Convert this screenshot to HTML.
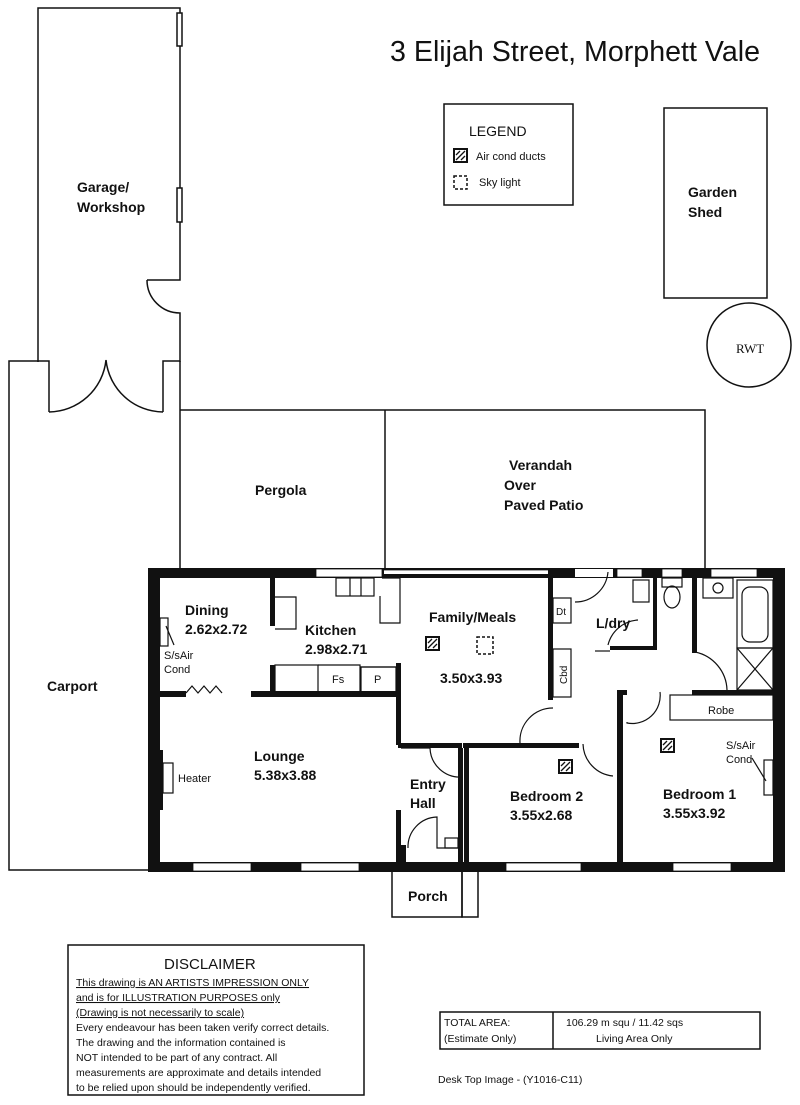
<!DOCTYPE html>
<html><head><meta charset="utf-8"><style>
html,body{margin:0;padding:0;background:#fff;}
svg{display:block;}
text{font-family:"Liberation Sans",Arial,sans-serif;fill:#111;}
.b{font-weight:bold;font-size:14px;}
.s{font-size:11px;}
</style></head><body>
<svg width="800" height="1105" viewBox="0 0 800 1105" xmlns="http://www.w3.org/2000/svg">
<g fill="none" stroke="#111" stroke-width="1.5">
<!-- Garage -->
<path d="M38,362 V8 H180 V280 H147"/>
<path d="M147,280 A33,33 0 0 0 180,313 V362"/>
<rect x="177" y="13" width="5" height="33" fill="#fff"/>
<rect x="177" y="188" width="5" height="34" fill="#fff"/>
<path d="M38,361 H49 V412 M163,412 V361 H180"/>
<path d="M49,412 A58,58 0 0 0 106,360 M163,412 A58,58 0 0 1 106,360"/>
<!-- Carport -->
<path d="M38,361 H9 V870 H150 M180,361 V570"/>
<!-- Pergola & verandah -->
<path d="M180,410 H705 V570 M385,410 V570"/>
<!-- Legend, shed, RWT -->
<rect x="444" y="104" width="129" height="101"/>
<rect x="664" y="108" width="103" height="190"/>
<circle cx="749" cy="345" r="42"/>
<!-- Porch -->
<path d="M392,870 V917 H462 V870"/>
<rect x="462" y="870" width="16" height="47"/>
<!-- Disclaimer & totals -->
<rect x="68" y="945" width="296" height="150"/>
<rect x="440" y="1012" width="320" height="37"/>
<path d="M553,1012 V1049"/>
</g>
<!-- legend icons -->
<rect x="454" y="149" width="13" height="13" fill="#fff" stroke="#111" stroke-width="2"/>
<path d="M456,160 L465,151 M456,155 L460,151 M461,160 L465,156" stroke="#111" stroke-width="1.3"/>
<rect x="454" y="176" width="13" height="13" fill="none" stroke="#111" stroke-width="1.5" stroke-dasharray="3,2"/>

<!-- House thick walls -->
<g fill="#111">
<rect x="148" y="568" width="637" height="10"/>
<rect x="148" y="568" width="12" height="304"/>
<rect x="773" y="568" width="12" height="304"/>
<rect x="148" y="862" width="637" height="10"/>
<!-- lounge/dining wall -->
<rect x="160" y="691" width="26" height="6"/>
<rect x="251" y="691" width="150" height="6"/>
<!-- kitchen verticals -->
<rect x="270" y="578" width="5" height="48"/>
<rect x="270" y="665" width="5" height="28"/>
<rect x="396" y="663" width="5" height="82"/>
<rect x="396" y="810" width="5" height="60"/>
<!-- entry hall -->
<rect x="398" y="743" width="64" height="5"/>
<rect x="458" y="748" width="5" height="124"/>
<rect x="398" y="845" width="8" height="27"/>
<!-- bedroom 2 -->
<rect x="463" y="743" width="116" height="5"/>
<rect x="464" y="748" width="5" height="120"/>
<rect x="617" y="690" width="6" height="175"/>
<rect x="617" y="690" width="10" height="5"/>
<rect x="692" y="690" width="83" height="5"/>
<!-- hall/family -->
<rect x="548" y="578" width="5" height="122"/>
<!-- laundry -->
<rect x="610" y="646" width="47" height="4"/>
<rect x="653" y="578" width="4" height="70"/>
<rect x="692" y="578" width="5" height="75"/>
<!-- heater bump -->
<rect x="155" y="750" width="8" height="60"/>
</g>
<!-- Windows (white gaps) -->
<g fill="#fff" stroke="#111" stroke-width="0.8">
<rect x="316" y="569" width="66" height="8"/>
<rect x="193" y="863" width="58" height="8"/>
<rect x="301" y="863" width="58" height="8"/>
<rect x="506" y="863" width="75" height="8"/>
<rect x="673" y="863" width="58" height="8"/>
<rect x="617" y="569" width="25" height="8"/>
<rect x="662" y="569" width="20" height="8"/>
<rect x="711" y="569" width="46" height="8"/>
</g>
<path d="M384,572 H548" stroke="#fff" stroke-width="4"/>
<path d="M384,570 H548 M384,575 H548" stroke="#111" stroke-width="0.8"/>
<!-- gap for door from hall to family top -->
<rect x="575" y="569" width="38" height="8" fill="#fff"/>
<g fill="none" stroke="#111" stroke-width="1.2">
<path d="M575,602 A33,33 0 0 0 608,572"/>
<!-- kitchen fittings -->
<rect x="336" y="578" width="38" height="18"/>
<path d="M350,578 V596 M361,578 V596 M382,578 H400 V623 H380 V596"/>
<path d="M275,597 H296 V629 H275"/>
<rect x="275" y="665" width="43" height="27"/>
<path d="M318,665 H360 V692 M360,667 H396"/>
<rect x="361" y="667" width="35" height="25"/>
<!-- dining/lounge zigzag -->
<path d="M186,693 L192,686 L198,693 L204,686 L210,693 L216,686 L222,693"/>
<!-- S/s air cond box -->
<rect x="160" y="618" width="8" height="28"/>
<path d="M166,626 L174,645"/>
<!-- doors -->
<path d="M401,748 H430 A30,30 0 0 0 462,777"/>
<path d="M408,848 A30,30 0 0 1 437,817 V848 H460"/>
<rect x="445" y="838" width="13" height="10"/>
<path d="M520,743 A33,33 0 0 1 553,708 M583,744 A33,33 0 0 0 613,776"/>
<path d="M627,722 V723 A28,28 0 0 0 660,692 M608,645 A33,33 0 0 1 638,620 M695,652 A40,40 0 0 1 727,690"/>
<path d="M595,651 H610"/>
<!-- Dt / Cbd -->
<rect x="553" y="598" width="18" height="25"/>
<rect x="553" y="649" width="18" height="48"/>
<!-- laundry tub, toilet -->
<rect x="633" y="580" width="16" height="22"/>
<ellipse cx="672" cy="597" rx="8" ry="11"/>
<rect x="662" y="578" width="20" height="9"/>
<!-- bathroom -->
<rect x="703" y="578" width="30" height="20"/>
<circle cx="718" cy="588" r="5"/>
<rect x="737" y="580" width="36" height="68"/>
<rect x="742" y="587" width="26" height="55" rx="8"/>
<rect x="737" y="648" width="36" height="42"/>
<path d="M737,648 L773,690 M773,648 L737,690"/>
<!-- Robe -->
<rect x="670" y="695" width="103" height="25"/>
<!-- bed1 air cond -->
<rect x="764" y="760" width="9" height="35"/>
<path d="M752,758 L766,781"/>
<!-- heater box -->
<rect x="163" y="763" width="10" height="30"/>
</g>
<!-- aircon ducts in rooms -->
<g stroke="#111" fill="#fff" stroke-width="2">
<rect x="426" y="637" width="13" height="13"/>
<rect x="559" y="760" width="13" height="13"/>
<rect x="661" y="739" width="13" height="13"/>
</g>
<g stroke="#111" stroke-width="1.3">
<path d="M428,648 L437,639 M428,643 L432,639 M433,648 L437,644"/>
<path d="M561,771 L570,762 M561,766 L565,762 M566,771 L570,767"/>
<path d="M663,750 L672,741 M663,745 L667,741 M668,750 L672,746"/>
</g>
<rect x="477" y="637" width="16" height="17" fill="none" stroke="#111" stroke-width="1.5" stroke-dasharray="3,2"/>

<!-- Text -->
<text x="390" y="61" font-size="29" textLength="370" lengthAdjust="spacingAndGlyphs">3 Elijah Street, Morphett Vale</text>
<text x="469" y="136" font-size="14">LEGEND</text>
<text x="476" y="160" font-size="11">Air cond ducts</text>
<text x="479" y="186" font-size="11">Sky light</text>
<text x="688" y="197" class="b">Garden</text>
<text x="688" y="217" class="b">Shed</text>
<text x="736" y="353" font-size="13" style="font-family:'Liberation Serif',serif">RWT</text>
<text x="77" y="192" class="b">Garage/</text>
<text x="77" y="212" class="b">Workshop</text>
<text x="255" y="495" class="b">Pergola</text>
<text x="509" y="470" class="b">Verandah</text>
<text x="504" y="490" class="b">Over</text>
<text x="504" y="510" class="b">Paved Patio</text>
<text x="47" y="691" class="b">Carport</text>
<text x="185" y="615" class="b">Dining</text>
<text x="185" y="634" class="b">2.62x2.72</text>
<text x="164" y="659" class="s">S/sAir</text>
<text x="164" y="673" class="s">Cond</text>
<text x="305" y="635" class="b">Kitchen</text>
<text x="305" y="654" class="b">2.98x2.71</text>
<text x="332" y="683" class="s">Fs</text>
<text x="374" y="683" class="s">P</text>
<text x="429" y="622" class="b">Family/Meals</text>
<text x="440" y="683" class="b">3.50x3.93</text>
<text x="556" y="615" font-size="10">Dt</text>
<text x="567" y="684" font-size="10" transform="rotate(-90 567 684)">Cbd</text>
<text x="596" y="628" class="b">L/dry</text>
<text x="254" y="761" class="b">Lounge</text>
<text x="254" y="780" class="b">5.38x3.88</text>
<text x="178" y="782" class="s">Heater</text>
<text x="410" y="789" class="b">Entry</text>
<text x="410" y="808" class="b">Hall</text>
<text x="510" y="801" class="b">Bedroom 2</text>
<text x="510" y="820" class="b">3.55x2.68</text>
<text x="663" y="799" class="b">Bedroom 1</text>
<text x="663" y="818" class="b">3.55x3.92</text>
<text x="708" y="714" class="s">Robe</text>
<text x="726" y="749" class="s">S/sAir</text>
<text x="726" y="763" class="s">Cond</text>
<text x="408" y="901" class="b">Porch</text>

<text x="164" y="969" font-size="15">DISCLAIMER</text>
<g font-size="10.5">
<text x="76" y="986" text-decoration="underline">This drawing is AN ARTISTS IMPRESSION ONLY</text>
<text x="76" y="1001" text-decoration="underline">and is for ILLUSTRATION PURPOSES only</text>
<text x="76" y="1016" text-decoration="underline">(Drawing is not necessarily to scale)</text>
<text x="76" y="1031">Every endeavour has been taken verify correct details.</text>
<text x="76" y="1046">The drawing and the information contained is</text>
<text x="76" y="1061">NOT intended to be part of any contract.  All</text>
<text x="76" y="1076">measurements are approximate and details intended</text>
<text x="76" y="1091">to be relied upon should be independently verified.</text>
<text x="444" y="1026">TOTAL AREA:</text>
<text x="444" y="1042">(Estimate Only)</text>
<text x="566" y="1026">106.29 m squ /  11.42 sqs</text>
<text x="596" y="1042">Living Area Only</text>
<text x="438" y="1083">Desk Top Image - (Y1016-C11)</text>
</g>
</svg>
</body></html>
